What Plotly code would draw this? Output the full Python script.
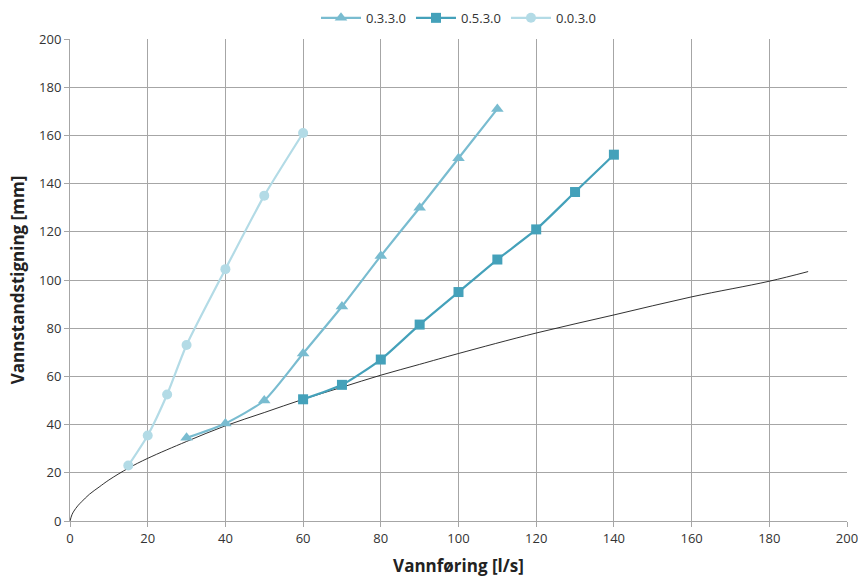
import plotly.graph_objects as go

# Data
x_s1 = [30, 40, 50, 60, 70, 80, 90, 100, 110]
y_s1 = [34.5, 40.5, 50, 69.5, 89, 110, 130, 150.5, 171]
name_s1 = "0.3.3.0"

x_s2 = [60, 70, 80, 90, 100, 110, 120, 130, 140]
y_s2 = [50.5, 56.5, 67, 81.5, 95, 108.5, 121, 136.5, 152]
name_s2 = "0.5.3.0"

x_s3 = [15, 20, 25, 30, 40, 50, 60]
y_s3 = [23, 35.5, 52.5, 73, 104.5, 135, 161]
name_s3 = "0.0.3.0"

# Thin black reference curve
x_ref = [0, 0.5, 1, 2, 3, 5, 7.5, 10, 15, 20, 30, 40, 50, 60, 70, 80, 90, 100, 120, 140, 160, 180, 190]
y_ref = [0, 2.6, 4.1, 6.3, 8.0, 11.1, 14.1, 17.0, 21.9, 26.0, 33.0, 39.5, 45.0, 50.5, 55.5, 60.5, 65.0, 69.5, 78.0, 85.5, 93.0, 99.5, 103.5]

x_ticks = list(range(0, 201, 20))
y_ticks = list(range(0, 201, 20))

c1 = "#79bcd0"
c2 = "#44a1ba"
c3 = "#b3dbe6"

fig = go.Figure()
fig.add_trace(go.Scatter(x=x_ref, y=y_ref, mode="lines", showlegend=False,
                         line=dict(color="#1a1a1a", width=0.9, shape="spline"), hoverinfo="skip"))
fig.add_trace(go.Scatter(x=x_s1, y=y_s1, mode="lines+markers", name=name_s1,
                         line=dict(color=c1, width=2.2, shape="spline", smoothing=0.6),
                         marker=dict(symbol="triangle-up", size=11, color=c1)))
fig.add_trace(go.Scatter(x=x_s2, y=y_s2, mode="lines+markers", name=name_s2,
                         line=dict(color=c2, width=2.2, shape="spline", smoothing=0.6),
                         marker=dict(symbol="square", size=10, color=c2)))
fig.add_trace(go.Scatter(x=x_s3, y=y_s3, mode="lines+markers", name=name_s3,
                         line=dict(color=c3, width=2.2, shape="spline", smoothing=0.6),
                         marker=dict(symbol="circle", size=10, color=c3)))

font_fam = "Open Sans, Liberation Sans, sans-serif"
fig.update_layout(
    width=858, height=577,
    margin=dict(l=70, r=11, t=39, b=56, autoexpand=False),
    plot_bgcolor="white", paper_bgcolor="white",
    font=dict(family=font_fam, size=13, color="#333333"),
    legend=dict(orientation="h", x=0.5, xanchor="center", y=0.969, yanchor="middle",
                yref="container", font=dict(size=13, color="#333333"),
                itemwidth=40, traceorder="normal"),
    showlegend=True,
)
fig.update_xaxes(range=[0, 200], tickvals=x_ticks, showgrid=True, gridcolor="#a6a6a6", gridwidth=1,
                 showline=True, linecolor="#a6a6a6", ticks="outside", ticklen=5, tickcolor="#a6a6a6",
                 zeroline=False, automargin=False, ticklabeloverflow="allow",
                 tickfont=dict(size=13, color="#333333"),
                 title=dict(text="<b>Vannføring [l/s]</b>", font=dict(size=17, color="#222222"), standoff=14))
fig.update_yaxes(range=[0, 200], tickvals=y_ticks, showgrid=True, gridcolor="#a6a6a6", gridwidth=1,
                 showline=True, linecolor="#a6a6a6", ticks="outside", ticklen=5, tickcolor="#a6a6a6",
                 zeroline=False, automargin=False, ticklabeloverflow="allow",
                 tickfont=dict(size=13, color="#333333"),
                 title=dict(text="<b>Vannstandstigning [mm]</b>", font=dict(size=17, color="#222222"), standoff=10))

fig.write_html("out.html")
